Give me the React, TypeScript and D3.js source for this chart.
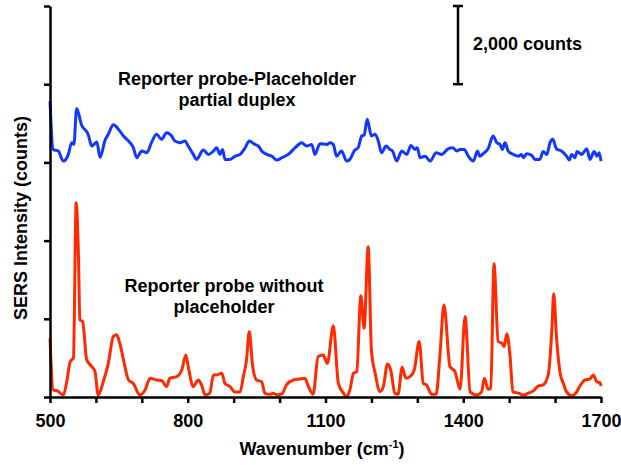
import React, { useEffect, useRef } from "react";
import * as d3 from "d3";

// --- Spectra (wavenumber in cm-1, intensity in counts) ---
const redWavenumber = [
  500, 507, 517, 529, 536, 544, 551, 557, 562, 565, 571, 580, 591, 598, 605, 616, 627, 638, 645, 652,
  660, 671, 681, 696, 707, 718, 732, 743, 754, 761, 776, 787, 796, 801, 812, 823, 830, 838, 848, 856,
  863, 874, 881, 892, 903, 914, 921, 928, 934, 941, 950, 961, 968, 979, 986, 994, 1005, 1015, 1030, 1044,
  1055, 1063, 1073, 1084, 1095, 1104, 1117, 1128, 1139, 1146, 1153, 1161, 1168, 1177, 1184, 1193, 1200, 1208, 1219, 1226,
  1235, 1242, 1251, 1258, 1267, 1275, 1284, 1293, 1304, 1313, 1320, 1331, 1341, 1349, 1358, 1371, 1382, 1393, 1404, 1415,
  1429, 1440, 1446, 1454, 1460, 1467, 1476, 1484, 1489, 1495, 1502, 1508, 1520, 1531, 1542, 1552, 1563, 1574, 1585, 1593,
  1597, 1603, 1611, 1618, 1625, 1636, 1647, 1654, 1665, 1676, 1683, 1691, 1698, 1700,
];
const redCounts = [
  1500, 180, 150, 50, 360, 905, 1000, 4965, 3600, 1975, 1930, 950, 780, 650, 50, 390, 860, 1550, 1590, 1375,
  950, 435, 350, 50, 180, 480, 435, 420, 265, 480, 520, 690, 1075, 780, 265, 435, 310, 50, 100, 565,
  565, 610, 350, 265, 130, 130, 520, 950, 1675, 820, 435, 390, 95, 70, 95, 60, 80, 310, 435, 460,
  480, 265, 70, 1035, 1075, 860, 1820, 350, 100, 0, 180, 610, 650, 2590, 1760, 3840, 1200, 610, 140, 265,
  845, 690, 95, 70, 760, 480, 520, 675, 1420, 350, 310, 70, 70, 1035, 2360, 780, 650, 200, 2060, 130,
  50, 130, 480, 200, 225, 3410, 1420, 1375, 1290, 1615, 1035, 130, 100, 50, 100, 150, 280, 310, 565, 1720,
  2640, 1545, 610, 350, 130, 30, 130, 280, 435, 460, 565, 390, 365, 280,
];

const blueWavenumber = [
  500, 507, 518, 529, 540, 547, 552, 558, 569, 583, 591, 602, 609, 620, 627, 638, 649, 660, 671, 681,
  689, 700, 711, 721, 732, 743, 754, 765, 772, 783, 794, 801, 812, 819, 834, 845, 856, 863, 870, 876,
  881, 892, 903, 914, 925, 934, 946, 954, 961, 972, 983, 994, 1005, 1019, 1034, 1048, 1059, 1070, 1077, 1088,
  1103, 1110, 1117, 1124, 1135, 1146, 1153, 1164, 1171, 1179, 1184, 1191, 1200, 1208, 1215, 1222, 1232, 1240, 1246, 1255,
  1266, 1277, 1286, 1295, 1300, 1306, 1317, 1328, 1341, 1353, 1367, 1377, 1386, 1393, 1402, 1411, 1422, 1431, 1436, 1444,
  1454, 1465, 1473, 1480, 1485, 1491, 1498, 1509, 1520, 1527, 1531, 1538, 1549, 1556, 1567, 1574, 1582, 1589, 1595, 1603,
  1614, 1625, 1631, 1636, 1643, 1648, 1658, 1669, 1676, 1685, 1691, 1696, 1700,
];
const blueCounts = [
  7565, 6333, 6290, 6033, 6205, 6505, 6460, 7377, 6950, 6720, 6418, 6520, 6130, 6570, 6720, 6960, 6850, 6675, 6545, 6390,
  6120, 6290, 6250, 6505, 6720, 6590, 6760, 6675, 6545, 6505, 6545, 6418, 6205, 6077, 6315, 6205, 6290, 6375, 6205, 6333,
  6077, 6077, 6160, 6205, 6375, 6545, 6460, 6418, 6290, 6205, 6160, 6060, 6120, 6205, 6375, 6505, 6418, 6460, 6205, 6480,
  6460, 6505, 6460, 6160, 6290, 6033, 6077, 6315, 6375, 6675, 6700, 7103, 6675, 6720, 6545, 6248, 6418, 6333, 6290, 6033,
  6290, 6205, 6435, 6333, 6375, 6120, 6160, 6033, 6248, 6205, 6348, 6375, 6290, 6333, 6333, 6160, 6033, 6290, 6160, 6230,
  6348, 6675, 6505, 6460, 6333, 6505, 6290, 6205, 6160, 6205, 6120, 6220, 6180, 6077, 6077, 6280, 6205, 6505, 6590, 6348,
  6290, 6160, 6060, 6205, 6120, 6280, 6205, 6348, 6077, 6280, 6160, 6250, 6033,
];

const xTicks = [500, 600, 700, 800, 900, 1000, 1100, 1200, 1300, 1400, 1500, 1600, 1700];
const xLabels = [500, 800, 1100, 1400, 1700];
const yTicks = [0, 2000, 4000, 6000, 8000, 10000];
const scaleBar = [8000, 10000];
const blueLabel = ["Reporter probe-Placeholder", "partial duplex"];
const redLabel = ["Reporter probe without", "placeholder"];

const FONT = "'Liberation Sans', Arial, sans-serif";

export default function App() {
  const svgRef = useRef<SVGSVGElement>(null);
  const width = 621;
  const height = 465;

  useEffect(() => {
    const svg = d3.select(svgRef.current);
    svg.selectAll("*").remove();

    const x = d3.scaleLinear().domain([500, 1700]).range([50, 601]);
    const y = d3.scaleLinear().domain([0, 10000]).range([397, 6]);

    // --- spectra ---
    const line = d3.line<[number, number]>()
      .x(d => x(d[0]))
      .y(d => y(d[1]))
      .curve(d3.curveMonotoneX);

    svg.append("path")
      .datum(blueWavenumber.map((w, i) => [w, blueCounts[i]] as [number, number]))
      .attr("d", line)
      .attr("fill", "none")
      .attr("stroke", "#1238ff")
      .attr("stroke-width", 3)
      .attr("stroke-linejoin", "round");

    svg.append("path")
      .datum(redWavenumber.map((w, i) => [w, redCounts[i]] as [number, number]))
      .attr("d", line)
      .attr("fill", "none")
      .attr("stroke", "#ff2a00")
      .attr("stroke-width", 3)
      .attr("stroke-linejoin", "round");

    // --- axes ---
    const xAxis = svg.append("g")
      .attr("transform", `translate(0,${y(0)})`)
      .call(d3.axisBottom(x)
        .tickValues(xTicks)
        .tickSize(6)
        .tickSizeOuter(0)
        .tickFormat(d => (xLabels.includes(+d) ? String(d) : "")));
    xAxis.select(".domain").attr("stroke", "#000").attr("stroke-width", 2.5);
    xAxis.selectAll(".tick line").attr("stroke", "#000").attr("stroke-width", 2.5);
    xAxis.selectAll(".tick text")
      .attr("fill", "#000")
      .attr("dy", null)
      .attr("y", 30)
      .style("font-family", FONT)
      .style("font-size", "18px")
      .style("font-weight", "bold");

    const yAxis = svg.append("g")
      .attr("transform", `translate(${x(500)},0)`)
      .call(d3.axisLeft(y).tickValues(yTicks).tickSize(6).tickSizeOuter(0).tickFormat(() => ""));
    yAxis.select(".domain").attr("stroke", "#000").attr("stroke-width", 2.5);
    yAxis.selectAll(".tick line").attr("stroke", "#000").attr("stroke-width", 2.5);

    // --- axis titles ---
    const xTitle = svg.append("text")
      .attr("x", 322)
      .attr("y", 455)
      .attr("text-anchor", "middle")
      .style("font-family", FONT)
      .style("font-size", "18px")
      .style("font-weight", "bold");
    xTitle.append("tspan").text("Wavenumber (cm");
    xTitle.append("tspan").attr("dy", -7).style("font-size", "11px").text("-1");
    xTitle.append("tspan").attr("dy", 7).text(")");

    svg.append("text")
      .attr("transform", "translate(27,218) rotate(-90)")
      .attr("text-anchor", "middle")
      .style("font-family", FONT)
      .style("font-size", "18px")
      .style("font-weight", "bold")
      .text("SERS Intensity (counts)");

    // --- series annotations ---
    const annotate = (lines: string[], cx: number, top: number) => {
      lines.forEach((t, i) => {
        svg.append("text")
          .attr("x", cx)
          .attr("y", top + i * 21)
          .attr("text-anchor", "middle")
          .style("font-family", FONT)
          .style("font-size", "18px")
          .style("font-weight", "bold")
          .text(t);
      });
    };
    annotate(blueLabel, 237, 85);
    annotate(redLabel, 224, 292);

    // --- 2,000 counts scale bar ---
    const barX = 458;
    const bar = svg.append("g").attr("stroke", "#000").attr("stroke-width", 2.5);
    bar.append("line").attr("x1", barX).attr("x2", barX).attr("y1", y(scaleBar[0])).attr("y2", y(scaleBar[1]));
    bar.append("line").attr("x1", barX - 5).attr("x2", barX + 5).attr("y1", y(scaleBar[0])).attr("y2", y(scaleBar[0]));
    bar.append("line").attr("x1", barX - 5).attr("x2", barX + 5).attr("y1", y(scaleBar[1])).attr("y2", y(scaleBar[1]));
    svg.append("text")
      .attr("x", 473)
      .attr("y", 50)
      .style("font-family", FONT)
      .style("font-size", "18px")
      .style("font-weight", "bold")
      .text("2,000 counts");
  }, []);

  return (
    <svg
      ref={svgRef}
      width={width}
      height={height}
      style={{ position: "absolute", left: 0, top: 0, background: "#fff" }}
    />
  );
}
